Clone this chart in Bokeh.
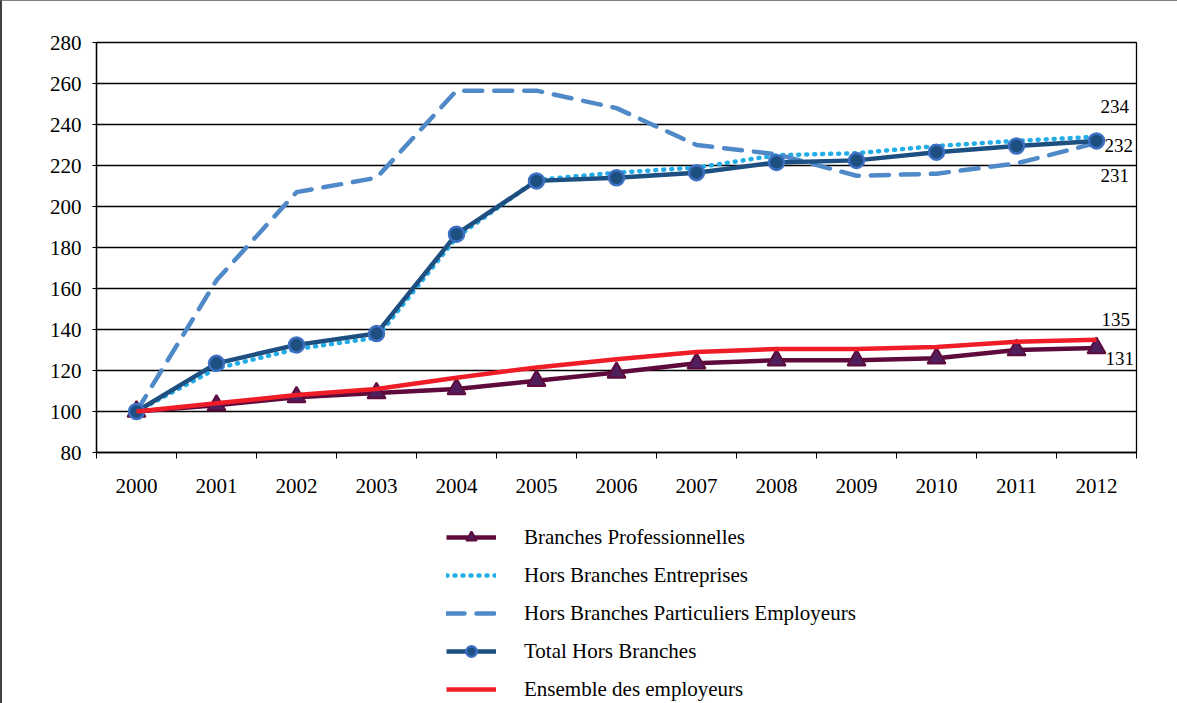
from bokeh.plotting import figure
from bokeh.layouts import column
from bokeh.models import (Range1d, FixedTicker, SingleIntervalTicker, Legend, LegendItem,
                          ColumnDataSource)
from bokeh.core.properties import value
from bokeh.embed import file_html
from bokeh.resources import INLINE

# ---- data -------------------------------------------------------------
years = [2000, 2001, 2002, 2003, 2004, 2005, 2006, 2007, 2008, 2009, 2010, 2011, 2012]
branches_pro = [100, 103, 107, 109, 111, 115, 119, 123.5, 125, 125, 126, 130, 131]
hb_entreprises = [100, 121, 130.5, 136, 185, 213, 216.5, 219, 225, 226, 229.5, 232, 234]
hb_particuliers = [100, 164, 207, 214, 256.5, 256.5, 248, 230, 225.5, 215, 216, 221, 231]
total_hb = [100, 123.5, 132.5, 138, 186.5, 212.5, 214, 216.5, 221.5, 222.5, 226.5, 229.5, 232]
ensemble = [100, 104, 108, 111, 116.5, 121.5, 125.5, 129, 130.5, 130.5, 131.5, 134, 135]
labels = ["Branches Professionnelles", "Hors Branches Entreprises",
          "Hors Branches Particuliers Employeurs", "Total Hors Branches",
          "Ensemble des employeurs"]

FONT = "Liberation Serif"

# ---- styles ------------------------------------------------------------
ST_BP_L = dict(line_color="#5e0b3c", line_width=4.5)
ST_BP_M = dict(marker="triangle", size=18, fill_color="#4e1f5c", line_color="#5e0b3c", line_width=2)
ST_HE = dict(line_color="#22ade6", line_width=4.5, line_dash="1 7", line_cap="round")
ST_HP = dict(line_color="#4f89c8", line_width=4.5, line_dash="18 12", line_cap="round")
ST_TH_L = dict(line_color="#1d4f80", line_width=4.5)
ST_TH_M = dict(marker="circle", size=15, fill_color="#1d4f80", line_color="#3d6fc2", line_width=2.5)
ST_EN = dict(line_color="#ee1d27", line_width=4.5)

# ---- main chart ----------------------------------------------------------
p = figure(width=1175, height=499, output_backend="svg", toolbar_location=None,
           x_range=Range1d(years[0] - 0.5, years[-1] + 0.5), y_range=Range1d(80, 280),
           min_border_left=94, min_border_right=41, min_border_top=41, min_border_bottom=48)
p.background_fill_color = "white"
p.border_fill_color = "white"
p.outline_line_color = "black"
p.outline_line_width = 1.3

p.xgrid.visible = False
p.ygrid.grid_line_color = "black"
p.ygrid.grid_line_width = 1.3
p.yaxis.ticker = SingleIntervalTicker(interval=20, num_minor_ticks=0)
p.xaxis.ticker = FixedTicker(ticks=years,
                             minor_ticks=[y - 0.5 for y in years] + [years[-1] + 0.5])
for ax in (p.xaxis[0], p.yaxis[0]):
    ax.axis_line_color = "black"
    ax.axis_line_width = 1.3
    ax.major_label_text_font = FONT
    ax.major_label_text_font_size = "21px"
    ax.major_label_text_color = "black"
    ax.major_tick_line_color = "black"
    ax.minor_tick_line_color = "black"
p.xaxis.major_tick_out = 0
p.xaxis.major_tick_in = 0
p.xaxis.minor_tick_out = 6
p.xaxis.minor_tick_in = 0
p.xaxis.major_label_standoff = 20
p.yaxis.major_tick_out = 4
p.yaxis.major_tick_in = 0
p.yaxis.major_label_standoff = 11

src = ColumnDataSource(dict(x=years, bp=branches_pro, he=hb_entreprises,
                            hp=hb_particuliers, th=total_hb, en=ensemble))

p.line("x", "bp", source=src, **ST_BP_L)
p.scatter("x", "bp", source=src, **ST_BP_M)
p.line("x", "he", source=src, **ST_HE)
p.line("x", "hp", source=src, **ST_HP)
p.line("x", "th", source=src, **ST_TH_L)
p.scatter("x", "th", source=src, **ST_TH_M)
p.line("x", "en", source=src, **ST_EN)

# end-value labels
end_vals = [hb_entreprises[-1], total_hb[-1], hb_particuliers[-1], ensemble[-1], branches_pro[-1]]
lab_src = ColumnDataSource(dict(
    x=[years[-1]] * 5, y=end_vals, t=[str(int(round(v))) for v in end_vals],
    xo=[4, 8, 4, 5, 9], yo=[-30, 5, 33, -20, 11]))
p.text("x", "y", text="t", source=lab_src, x_offset="xo", y_offset="yo",
       text_font=value(FONT), text_font_size="19px", text_color="black",
       text_baseline="middle", text_align="left")

# ---- legend panel (same series, view range set away from the data) -------
lf = figure(width=1175, height=203, output_backend="svg", toolbar_location=None,
            x_axis_location=None, y_axis_location=None,
            x_range=Range1d(0, 1), y_range=Range1d(0, 1),
            min_border_left=0, min_border_right=0, min_border_top=0, min_border_bottom=0)
lf.grid.visible = False
lf.outline_line_color = None
lf.background_fill_color = "white"
lf.border_fill_color = "white"
l_bp_l = lf.line("x", "bp", source=src, **ST_BP_L)
l_bp_m = lf.scatter("x", "bp", source=src, **ST_BP_M)
l_he = lf.line("x", "he", source=src, **ST_HE)
l_hp = lf.line("x", "hp", source=src, **ST_HP)
l_th_l = lf.line("x", "th", source=src, **ST_TH_L)
l_th_m = lf.scatter("x", "th", source=src, **ST_TH_M)
l_en = lf.line("x", "en", source=src, **ST_EN)

legend = Legend(items=[
    LegendItem(label=labels[0], renderers=[l_bp_l, l_bp_m]),
    LegendItem(label=labels[1], renderers=[l_he]),
    LegendItem(label=labels[2], renderers=[l_hp]),
    LegendItem(label=labels[3], renderers=[l_th_l, l_th_m]),
    LegendItem(label=labels[4], renderers=[l_en]),
], location=(350, 1))
legend.glyph_width = 50
legend.glyph_height = 26
legend.label_height = 26
legend.spacing = 12
legend.padding = 0
legend.margin = 0
legend.label_standoff = 28
legend.label_text_font = FONT
legend.label_text_font_size = "21px"
legend.label_text_color = "black"
legend.border_line_color = None
legend.background_fill_alpha = 0
lf.add_layout(legend, "center")

layout = column(p, lf, spacing=0,
                styles={"border-top": "1px solid #808080", "border-left": "2px solid #404040"})

open("out.html", "w").write(file_html(layout, INLINE))
